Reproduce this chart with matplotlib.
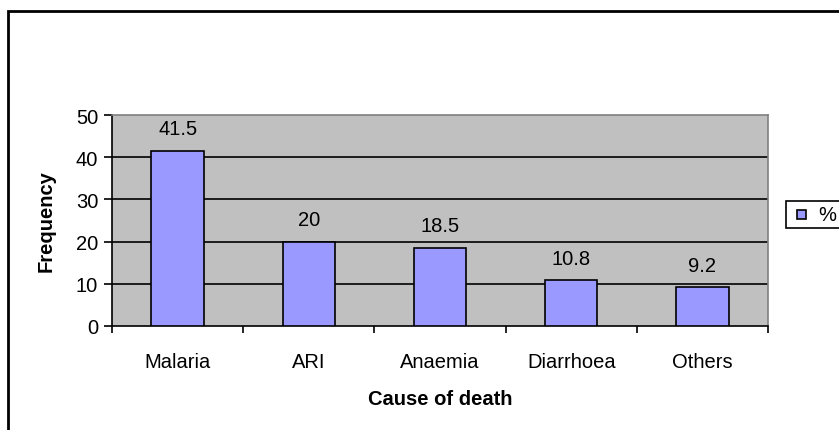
import matplotlib.pyplot as plt
from matplotlib.patches import Rectangle
import numpy as np

plt.rcParams["font.family"] = ["Liberation Sans", "DejaVu Sans"]

# Data
causes = ["Malaria", "ARI", "Anaemia", "Diarrhoea", "Others"]
percent = [41.5, 20, 18.5, 10.8, 9.2]
value_labels = ["41.5", "20", "18.5", "10.8", "9.2"]

FS = 14.5

fig = plt.figure(figsize=(8.39, 4.31), dpi=100)
ax = fig.add_axes([112 / 839, 1 - 327 / 431, 656 / 839, 211 / 431])
ax.set_facecolor("#C0C0C0")

x = np.arange(len(causes))
bars = ax.bar(x, percent, width=0.4, color="#9999FF", edgecolor="black",
              linewidth=1.2, label="%", zorder=3)

for xi, v, lab in zip(x, percent, value_labels):
    ax.annotate(lab, (xi, v), xytext=(0, 9), textcoords="offset points",
                ha="center", va="bottom", fontsize=FS)

ax.set_xlim(-0.5, len(causes) - 0.5)
ax.set_ylim(0, 50)
ax.set_yticks([0, 10, 20, 30, 40, 50])
for yv in [10, 20, 30, 40]:
    ax.axhline(yv, color="black", linewidth=1.2, zorder=1)

ax.set_xticks(x)
ax.set_xticklabels(causes, fontsize=FS)
ax.set_xticks(np.arange(-0.5, len(causes)), minor=True)
ax.tick_params(axis="x", which="major", length=0, pad=19)
ax.tick_params(axis="x", which="minor", length=5, width=1.2, direction="out")
ax.tick_params(axis="y", length=6, width=1.2, direction="out", labelsize=FS, pad=4)

for side in ["left", "bottom"]:
    ax.spines[side].set_color("black")
    ax.spines[side].set_linewidth(1.2)
for side in ["top", "right"]:
    ax.spines[side].set_color("#808080")
    ax.spines[side].set_linewidth(1.2)

ax.set_xlabel("Cause of death", fontsize=FS, fontweight="bold", labelpad=13)
ax.set_ylabel("Frequency", fontsize=FS, fontweight="bold", labelpad=14.5)

# Legend box (cut off at the right edge, like the original)
fig.patches.append(Rectangle((786 / 839, 1 - 229 / 431), 0.2, 27 / 431,
                             transform=fig.transFigure, facecolor="white",
                             edgecolor="black", linewidth=1.2))
fig.patches.append(Rectangle((797 / 839, 1 - 220 / 431), 9 / 839, 9 / 431,
                             transform=fig.transFigure, facecolor="#9999FF",
                             edgecolor="black", linewidth=1.2))
fig.text(818 / 839, 1 - 215.5 / 431, "%", fontsize=FS, va="center", ha="left")

# Outer chart border
fig.patches.append(Rectangle((8 / 839, -0.1), 2, 1.1 - 12 / 431,
                             transform=fig.transFigure, facecolor="none",
                             edgecolor="black", linewidth=2))

fig.savefig("out.png", dpi=100)
